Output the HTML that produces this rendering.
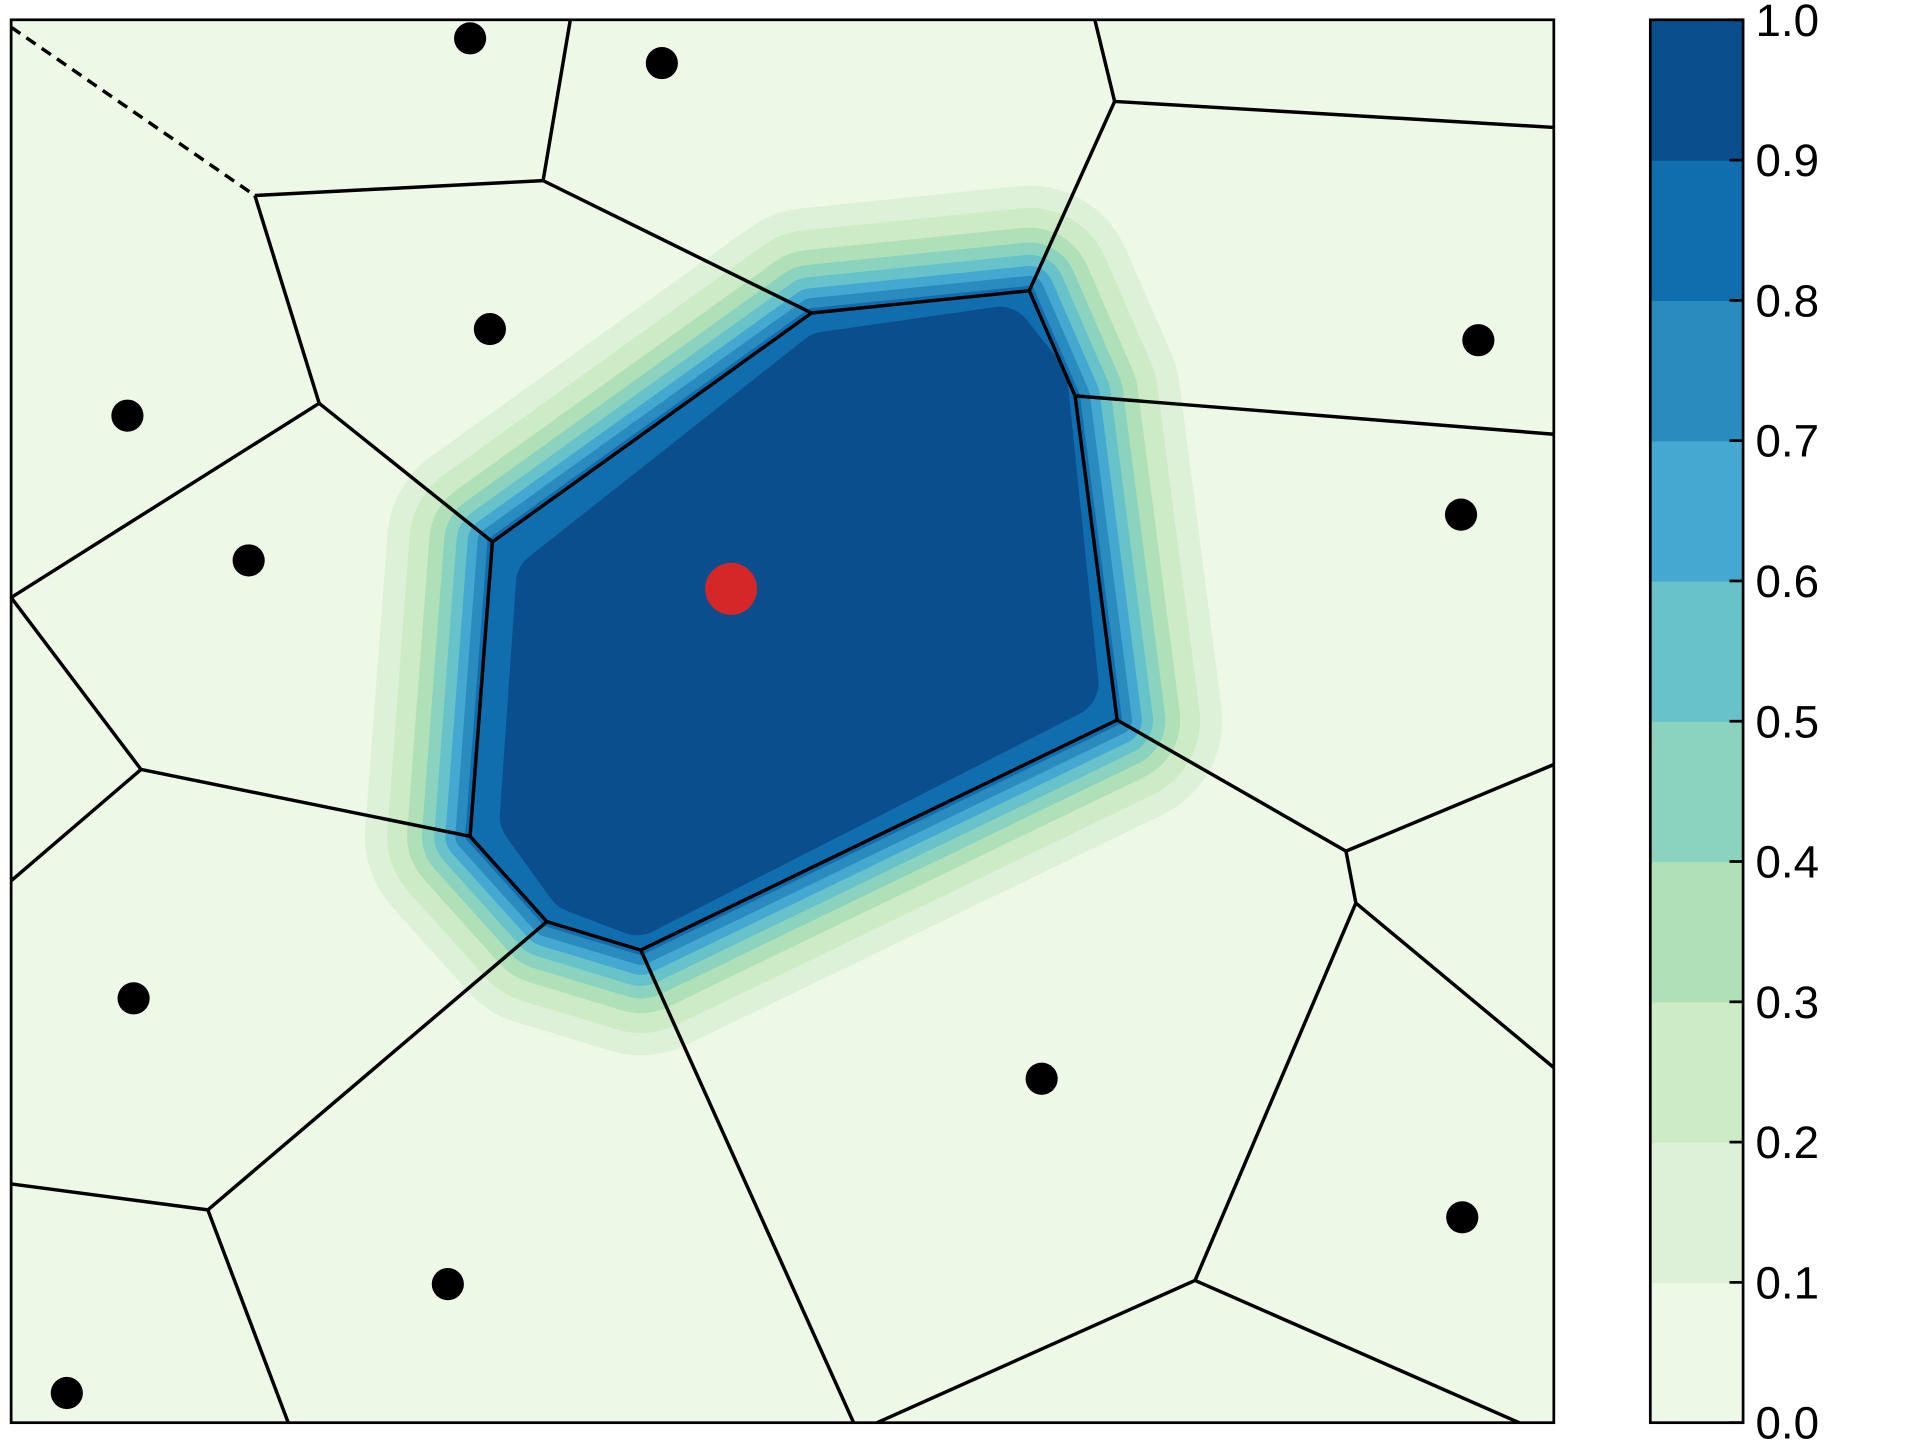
<!DOCTYPE html>
<html><head><meta charset="utf-8"><style>html,body{margin:0;padding:0;background:#fff}svg{display:block}</style></head>
<body>
<svg id="chart" width="1920" height="1440" viewBox="0 0 1552 1164" preserveAspectRatio="none" xmlns="http://www.w3.org/2000/svg" font-family="Liberation Sans, sans-serif">
<defs><clipPath id="clip"><rect x="9" y="16" width="1247" height="1134"/></clipPath></defs>
<rect x="9" y="16" width="1247" height="1134" fill="#eef8e7"/>
<g id="contours" clip-path="url(#clip)"></g>
<g id="edges" clip-path="url(#clip)"></g>
<g id="points"></g>
<rect x="9" y="16" width="1247" height="1134" fill="none" stroke="#000" stroke-width="2.2"/>
<g id="colorbar"></g>
</svg>
<script>
const levels=[0,0.1,0.2,0.3,0.4,0.5,0.6,0.7,0.8,0.9,1.0];
const levelColors=["#eef8e7","#ddf1d8","#cdebc5","#b0e0b7","#8bd3bf","#68c2ca","#45a8d0","#2a8bbf","#116eae","#0a4e8e"];
const bandOffsets=[85,67,51,39,29,20,12,4];
const cellPoly=[[398,438],[656,253],[832,235],[869,320],[903,582],[518,768],[442,745],[380,676]];
const innerPoly=[[445,472],[668,296],[808,276],[835,310],[860,552],[515,728],[468,710],[432,660]];
const sites=[[380,31],[535,51],[396,266],[103,336],[201,453],[1195,275],[1181,416],[108,807],[842,872],[1182,984],[362,1038],[54,1126]];
const target=[591,476];
const edges=[[439,146,206,158],[439,146,461,16],[439,146,656,253],[206,158,258,326],[258,326,9,483],[258,326,398,438],[398,438,656,253],[656,253,832,235],[832,235,901,82],[901,82,885,16],[901,82,1256,103],[832,235,869,320],[869,320,1256,351],[869,320,903,582],[903,582,1088,688],[1088,688,1256,618],[1088,688,1096,730],[1096,730,1256,863],[1096,730,966,1035],[966,1035,709,1150],[966,1035,1228,1150],[903,582,518,768],[518,768,690,1150],[518,768,442,745],[442,745,168,978],[168,978,9,957],[168,978,233,1150],[442,745,380,676],[380,676,398,438],[380,676,114,622],[114,622,9,483],[114,622,9,712]];
const dashedEdges=[[9,22,206,158]];
const NS="http://www.w3.org/2000/svg";
function mk(t,a,p){const e=document.createElementNS(NS,t);for(const k in a)e.setAttribute(k,a[k]);p.appendChild(e);return e;}
const pts=p=>p.map(q=>q.join(",")).join(" ");
const cg=document.getElementById("contours");
bandOffsets.forEach((d,i)=>{
  const e=mk("polygon",{points:pts(cellPoly),fill:levelColors[i+1],stroke:levelColors[i+1],"stroke-width":2*d,"stroke-linejoin":"round"},cg);
  
  
});
const inner=mk("polygon",{points:pts(innerPoly),fill:levelColors[9],stroke:levelColors[9],"stroke-width":56,"stroke-linejoin":"round"},cg);


const eg=document.getElementById("edges");
edges.forEach(s=>{
  const e=mk("line",{x1:s[0],y1:s[1],x2:s[2],y2:s[3],stroke:"#000","stroke-width":2.8},eg);
  
  
});
dashedEdges.forEach(s=>{
  const e=mk("line",{x1:s[0],y1:s[1],x2:s[2],y2:s[3],stroke:"#000","stroke-width":2.8,"stroke-dasharray":"9,6"},eg);
  
  
});
const pg=document.getElementById("points");
sites.forEach(s=>{
  const e=mk("circle",{cx:s[0],cy:s[1],r:13,fill:"#000"},pg);
  
  
});
const tp=mk("circle",{cx:target[0],cy:target[1],r:21,fill:"#d62728"},pg);


const cb=document.getElementById("colorbar");
const cx=1334,cw=75,cy0=1150,cy1=16;
const cy=v=>cy0+(cy1-cy0)*v;
for(let i=0;i<10;i++){
  const e=mk("rect",{x:cx,y:cy(levels[i+1]),width:cw,height:cy(levels[i])-cy(levels[i+1])+0.5,fill:levelColors[i]},cb);
  
  
}
const fr=mk("rect",{x:cx,y:cy1,width:cw,height:cy0-cy1,fill:"none",stroke:"#000","stroke-width":2.2},cb);


levels.forEach(v=>{
  const y=cy(v);
  const t=mk("line",{x1:cx+cw-11,y1:y,x2:cx+cw,y2:y,stroke:"#000","stroke-width":2.2},cb);
  
  
  const l=mk("text",{x:1419,y:y+13,"font-size":37,fill:"#000"},cb);
  l.textContent=v.toFixed(1);
  
  
});
</script>
</body></html>
